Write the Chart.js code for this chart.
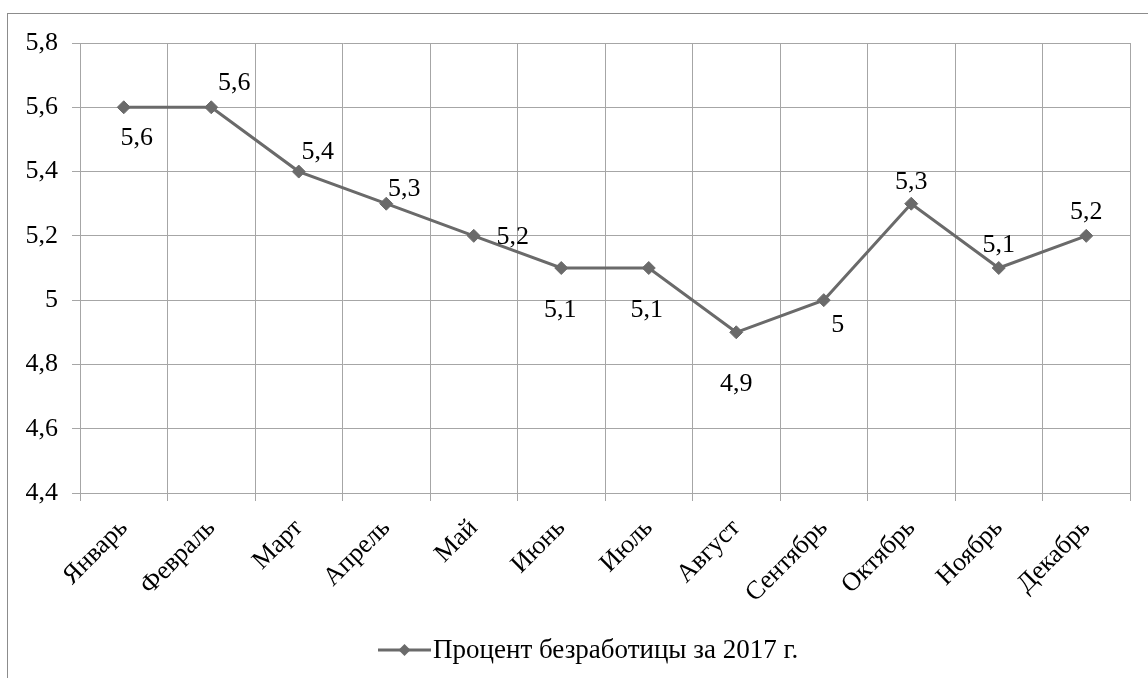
<!DOCTYPE html>
<html><head><meta charset="utf-8">
<script src="https://cdn.jsdelivr.net/npm/chart.js@4"></script>
<style>html,body{margin:0;padding:0;background:#fff}#wrap{width:1148px;height:678px}</style>
</head><body><div id="wrap"><canvas id="c" width="1148" height="678"></canvas></div>
<script>
const categories = ['Январь','Февраль','Март','Апрель','Май','Июнь','Июль','Август','Сентябрь','Октябрь','Ноябрь','Декабрь'];
const unemployment = [5.6,5.6,5.4,5.3,5.2,5.1,5.1,4.9,5.0,5.3,5.1,5.2];
const yTicks = [4.4,4.6,4.8,5.0,5.2,5.4,5.6,5.8];
const seriesName = 'Процент безработицы за 2017 г.';

const FONT = 'Liberation Serif';
const LINE = '#6a6a6a';
const fmt = v => Number(v.toFixed(1)).toString().replace('.', ',');

// pixel offsets of each data label from its point (style, not data)
const labelOffsets = [[13,31],[23,-24],[19,-19],[18,-15],[39,1],[-1,42],[-2,42],[0,52],[14,25],[0,-22],[0,-23],[0,-24]];

const decor = {
  id:'decor',
  beforeDraw(chart){
    const c = chart.ctx;
    c.save();
    c.strokeStyle = '#8c8c8c'; c.lineWidth = 1;
    c.strokeRect(7.5, 13.5, 1300, 800);
    c.restore();
  },
  afterDatasetsDraw(chart){
    const c = chart.ctx;
    const meta = chart.getDatasetMeta(0);
    c.save();
    c.font = '26px "Liberation Serif"';
    c.fillStyle = '#000';
    c.textAlign = 'center'; c.textBaseline = 'middle';
    meta.data.forEach((p,i)=>{
      const o = labelOffsets[i];
      c.fillText(fmt(unemployment[i]), p.x + o[0], p.y + o[1]);
    });
    // legend
    const ly = 650, lx = 378;
    c.strokeStyle = LINE; c.lineWidth = 3;
    c.beginPath(); c.moveTo(lx, ly); c.lineTo(lx+53, ly); c.stroke();
    c.fillStyle = LINE;
    c.beginPath(); const dx = lx+26.5, r = 6;
    c.moveTo(dx, ly-r); c.lineTo(dx+r, ly); c.lineTo(dx, ly+r); c.lineTo(dx-r, ly); c.closePath(); c.fill();
    c.fillStyle = '#000'; c.textAlign = 'left';
    c.font = '27px "Liberation Serif"';
    c.fillText(seriesName, lx+55, ly+1);
    c.restore();
  }
};

new Chart(document.getElementById('c'), {
  type:'line',
  data:{labels:categories, datasets:[{
    label:seriesName, data:unemployment,
    borderColor:LINE, backgroundColor:LINE, borderWidth:3,
    pointStyle:'rectRot', pointRadius:6.5, pointHoverRadius:6.5,
    pointBackgroundColor:LINE, pointBorderColor:LINE, pointBorderWidth:1,
    tension:0
  }]},
  options:{
    responsive:false, animation:false, devicePixelRatio:1,
    layout:{padding:{left:0, top:43, right:18, bottom:0}},
    plugins:{legend:{display:false}, tooltip:{enabled:false}},
    scales:{
      x:{
        offset:true,
        grid:{offset:true, color:'#a6a6a6', lineWidth:1, tickLength:8, drawTicks:true},
        border:{color:'#a6a6a6'},
        ticks:{font:{family:FONT, size:26}, color:'#000', maxRotation:45, minRotation:45, padding:12},
        afterFit(s){ s.height = 185; }
      },
      y:{
        min:4.4, max:5.8,
        afterBuildTicks(s){ s.ticks = yTicks.map(v=>({value:v})); },
        grid:{color:'#a6a6a6', lineWidth:1, tickLength:8},
        border:{color:'#a6a6a6'},
        ticks:{font:{family:FONT, size:26}, color:'#000', padding:14, callback:v=>fmt(v)},
        afterFit(s){ s.width = 80; }
      }
    }
  },
  plugins:[decor]
});
</script></body></html>
